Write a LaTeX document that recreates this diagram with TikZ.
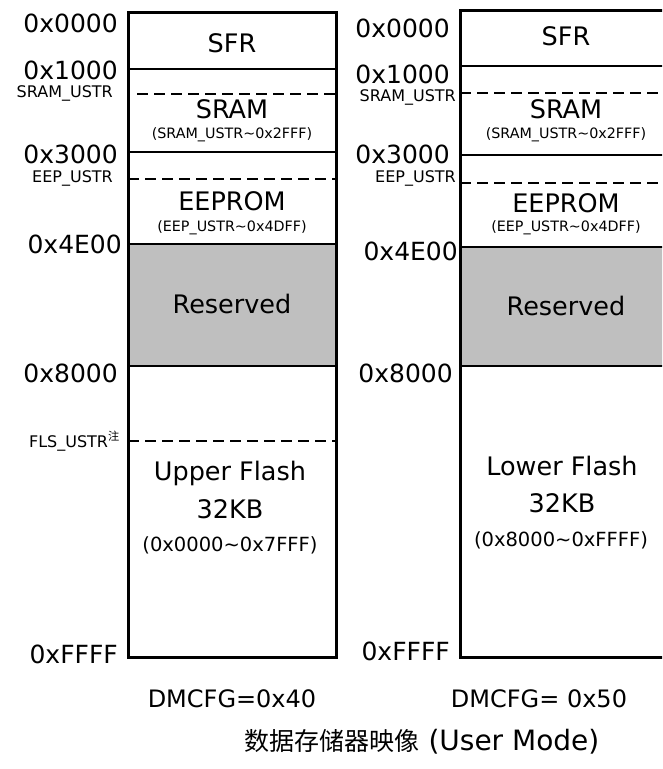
\documentclass[tikz,border=0pt]{standalone}
\usepackage{fontspec}
\setmainfont{DejaVu Sans}
\newfontfamily\cjkfont{Noto Sans CJK SC}
\usepackage{tikz}
\usetikzlibrary{positioning}

\tikzset{
  addr/.style={anchor=base east, inner sep=0pt, font=\fontsize{25}{30}\selectfont},
  ustr/.style={anchor=base east, inner sep=0pt, font=\fontsize{16}{19}\selectfont},
  region/.style={anchor=base, inner sep=0pt, font=\fontsize{25.5}{30}\selectfont},
  span/.style={anchor=base, inner sep=0pt, font=\fontsize{14.3}{17}\selectfont},
  flashspan/.style={anchor=base, inner sep=0pt, font=\fontsize{19.5}{23}\selectfont},
  cfg/.style={anchor=base, inner sep=0pt, font=\fontsize{24}{28}\selectfont},
  divider/.style={line width=2.4pt},
  userline/.style={line width=2.4pt, dash pattern=on 11pt off 6pt},
  outline/.style={line width=3pt},
  resv/.style={fill=black!25}
}

\begin{document}
\begin{tikzpicture}[x=1pt, y=-1pt]
\useasboundingbox (0,0) rectangle (662,769);
\clip (0,0) rectangle (662,769);

% Left map: DMCFG=0x40
\fill[resv] (128,244) rectangle (336,366);
\foreach \y in {69, 152, 244, 366} {
   \draw[divider] (128,\y) -- (336,\y);
}
\draw[userline] (137,94) -- (338,94);
\draw[userline] (128,179) -- (338,179);
\draw[userline] (128,441) -- (338,441);
\draw[outline] (128,12) rectangle (336,657);

\foreach \x/\y/\addr [count=\i] in {118/32/0x0000, 118/79/0x1000, 118/163/0x3000, 122/253/0x4E00, 118/382/0x8000, 118/663/0xFFFF} {
   \node[addr] (laddr\i) at (\x,\y) {\addr};
}
\node[ustr] (lsram) at (113,97) {SRAM\_USTR};
\node[ustr] (leep) at (113,182) {EEP\_USTR};
\node[ustr] (lfls) at (120,447) {FLS\_USTR\textsuperscript{\cjkfont 注}};

\node[region] (lsfr) at (232,52) {SFR};
\node[region] (lsramtxt) at (232,118) {SRAM};
\node[span] (lsramrng) at (232,138) {(SRAM\_USTR\textasciitilde0x2FFF)};
\node[region] (leeptxt) at (232,210) {EEPROM};
\node[span] (leeprng) at (232,231) {(EEP\_USTR\textasciitilde0x4DFF)};
\node[region] (lresv) at (232,313) {Reserved};
\node[region] (lflash) at (230,480) {Upper Flash};
\node[region] (lsize) at (230,518) {32KB};
\node[flashspan] (lflrng) at (230,551) {(0x0000\textasciitilde0x7FFF)};
\node[cfg] (lcfg) at (232,707) {DMCFG=0x40};

% Right map: DMCFG=0x50
\fill[resv] (460,247) rectangle (672,366);
\foreach \y in {66, 155, 247, 366} {
   \draw[divider] (460,\y) -- (672,\y);
}
\draw[userline] (460,93) -- (672,93);
\draw[userline] (460,183) -- (672,183);
\draw[outline] (460,10) rectangle (672,657);

\foreach \x/\y/\addr [count=\i] in {450/37/0x0000, 450/83/0x1000, 450/163/0x3000, 458/260/0x4E00, 453/382/0x8000, 450/660/0xFFFF} {
   \node[addr] (raddr\i) at (\x,\y) {\addr};
}
\node[ustr] (rsram) at (456,101) {SRAM\_USTR};
\node[ustr] (reep) at (456,182) {EEP\_USTR};

\node[region] (rsfr) at (566,45) {SFR};
\node[region] (rsramtxt) at (566,118) {SRAM};
\node[span] (rsramrng) at (566,138) {(SRAM\_USTR\textasciitilde0x2FFF)};
\node[region] (reeptxt) at (566,212) {EEPROM};
\node[span] (reeprng) at (566,231) {(EEP\_USTR\textasciitilde0x4DFF)};
\node[region] (rresv) at (566,315) {Reserved};
\node[region] (rflash) at (562,475) {Lower Flash};
\node[region] (rsize) at (562,512) {32KB};
\node[flashspan] (rflrng) at (561,546) {(0x8000\textasciitilde0xFFFF)};
\node[cfg] (rcfg) at (539,707) {DMCFG= 0x50};

% Caption
\node[anchor=base, inner sep=0pt, font=\fontsize{28}{32}\selectfont] (caption) at (422,750) {{\cjkfont\fontsize{25}{29}\selectfont 数据存储器映像} (User Mode)};
\end{tikzpicture}
\end{document}
